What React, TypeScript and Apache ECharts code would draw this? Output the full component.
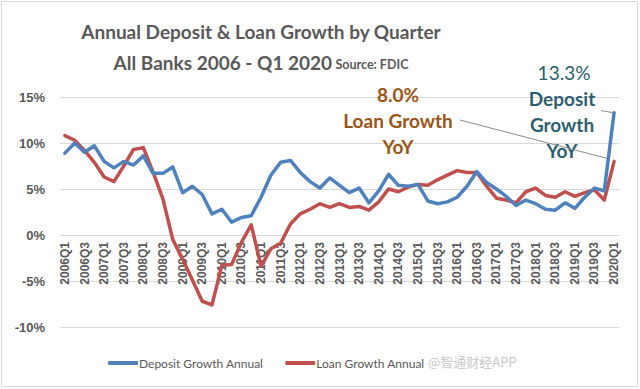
import React, { useEffect, useRef } from "react";
import * as echarts from "echarts";

const quarters = [
  "2006Q1", "2006Q2", "2006Q3", "2006Q4",
  "2007Q1", "2007Q2", "2007Q3", "2007Q4",
  "2008Q1", "2008Q2", "2008Q3", "2008Q4",
  "2009Q1", "2009Q2", "2009Q3", "2009Q4",
  "2010Q1", "2010Q2", "2010Q3", "2010Q4",
  "2011Q1", "2011Q2", "2011Q3", "2011Q4",
  "2012Q1", "2012Q2", "2012Q3", "2012Q4",
  "2013Q1", "2013Q2", "2013Q3", "2013Q4",
  "2014Q1", "2014Q2", "2014Q3", "2014Q4",
  "2015Q1", "2015Q2", "2015Q3", "2015Q4",
  "2016Q1", "2016Q2", "2016Q3", "2016Q4",
  "2017Q1", "2017Q2", "2017Q3", "2017Q4",
  "2018Q1", "2018Q2", "2018Q3", "2018Q4",
  "2019Q1", "2019Q2", "2019Q3", "2019Q4",
  "2020Q1",
];

const depositGrowth = [
  8.9, 10.0, 9.0, 9.7,
  8.0, 7.3, 8.0, 7.6,
  8.6, 6.7, 6.7, 7.4,
  4.6, 5.3, 4.4, 2.3,
  2.8, 1.4, 1.9, 2.1,
  4.1, 6.5, 7.9, 8.1,
  6.8, 5.8, 5.1, 6.2,
  5.4, 4.6, 5.1, 3.5,
  4.8, 6.6, 5.4, 5.3,
  5.5, 3.7, 3.4, 3.6,
  4.1, 5.3, 6.9, 5.7,
  5.0, 4.2, 3.2, 3.8,
  3.4, 2.8, 2.7, 3.5,
  2.9, 4.1, 5.1, 4.8,
  13.3,
];

const loanGrowth = [
  10.8, 10.3, 9.2, 7.9,
  6.3, 5.8, 7.5, 9.3,
  9.5, 6.8, 3.9, -0.5,
  -2.6, -4.9, -7.2, -7.6,
  -3.3, -3.2, -0.8, 1.1,
  -3.4, -1.5, -0.9, 1.2,
  2.3, 2.8, 3.4, 3.0,
  3.4, 3.0, 3.1, 2.7,
  3.6, 5.0, 4.7, 5.2,
  5.5, 5.4, 6.0, 6.5,
  7.0, 6.8, 6.8, 5.3,
  4.0, 3.8, 3.5, 4.7,
  5.1, 4.3, 4.1, 4.7,
  4.2, 4.6, 4.9, 3.8,
  8.0,
];

const yTicks = { min: -10, max: 15, interval: 5 };
const seriesNames = ["Deposit Growth Annual", "Loan Growth Annual"];

export default function App() {
  const ref = useRef<HTMLDivElement>(null);
  useEffect(() => {
    if (!ref.current) return;
    const chart = echarts.init(ref.current, null, { renderer: "svg" });
    const gray = "#595959";
    const gridBox = { left: 60, right: 21, top: 97, bottom: 62 };
    chart.setOption({
      animation: false,
      backgroundColor: "#ffffff",
      grid: { ...gridBox, containLabel: false },
      legend: {
        left: 103,
        top: 352,
        itemWidth: 30,
        itemHeight: 4,
        itemGap: 22,
        icon: "roundRect",
        textStyle: { color: gray, fontSize: 12, fontFamily: "Lato", padding: [0, 0, 0, -4] },
        data: seriesNames,
      },
      xAxis: {
        type: "category",
        data: quarters,
        boundaryGap: true,
        position: "bottom",
        offset: 0,
        axisLine: { show: false, onZero: false },
        axisTick: { show: false },
        axisLabel: {
          rotate: 90,
          interval: 1,
          color: gray,
          fontSize: 12,
          fontWeight: "bold",
          fontFamily: "Liberation Sans",
          margin: 7,
        },
        splitLine: { show: false },
      },
      yAxis: {
        type: "value",
        min: yTicks.min,
        max: yTicks.max,
        interval: yTicks.interval,
        axisLine: { show: false },
        axisTick: { show: false },
        axisLabel: {
          formatter: "{value}%",
          color: gray,
          fontSize: 13,
          fontWeight: "bold",
          fontFamily: "Liberation Sans",
          margin: 15,
        },
        splitLine: { lineStyle: { color: "#D9D9D9", width: 1 } },
      },
      series: [
        {
          name: seriesNames[0],
          type: "line",
          data: depositGrowth,
          symbol: "none",
          color: "#4F81BD",
          lineStyle: { width: 3.5, color: "#4F81BD", join: "round", cap: "round" },
          z: 3,
        },
        {
          name: seriesNames[1],
          type: "line",
          data: loanGrowth,
          symbol: "none",
          color: "#C0504D",
          lineStyle: { width: 3.5, color: "#C0504D", join: "round", cap: "round" },
          z: 2,
        },
      ],
    });

    // move the category axis (and its labels) up to the 0% line
    const zeroPx = chart.convertToPixel({ yAxisIndex: 0 }, 0) as number;
    const bottomPx = 389 - gridBox.bottom;
    chart.setOption({ xAxis: { offset: -(bottomPx - zeroPx) } });

    const last = quarters.length - 1;
    const pDep = chart.convertToPixel({ gridIndex: 0 }, [quarters[last], depositGrowth[last]]) as number[];
    const pLoan = chart.convertToPixel({ gridIndex: 0 }, [quarters[last], loanGrowth[last]]) as number[];
    const teal = "#2C5F6E";
    const brown = "#9A5518";
    const annFont = { fontFamily: "Lato", fontSize: 19, fontWeight: "bold" };

    chart.setOption({
      graphic: [
        {
          type: "rect",
          shape: { x: 1.5, y: 1.5, width: 636, height: 385 },
          style: { fill: "none", stroke: "#D9D9D9", lineWidth: 1 },
          silent: true,
        },
        {
          type: "text",
          x: 261,
          y: 31,
          style: {
            text: "Annual Deposit & Loan Growth by Quarter",
            fill: gray,
            fontFamily: "Lato",
            fontSize: 19,
            fontWeight: "bold",
            align: "center",
            verticalAlign: "middle",
          },
        },
        {
          type: "text",
          x: 261,
          y: 62,
          style: {
            text: "{a|All Banks 2006 - Q1 2020} {b|Source: FDIC}",
            align: "center",
            verticalAlign: "middle",
            rich: {
              a: { fill: gray, fontFamily: "Lato", fontSize: 19, fontWeight: "bold" },
              b: { fill: gray, fontFamily: "Lato", fontSize: 12.5, fontWeight: "bold", padding: [4, 0, 0, 0] },
            },
          },
        },
        {
          type: "text",
          x: 564,
          y: 72,
          style: { text: "13.3%", fill: teal, ...annFont, fontWeight: "normal", align: "center", verticalAlign: "middle" },
        },
        {
          type: "text",
          x: 562,
          y: 124,
          style: {
            text: "Deposit\nGrowth\nYoY",
            fill: teal,
            ...annFont,
            lineHeight: 26,
            align: "center",
            verticalAlign: "middle",
          },
        },
        {
          type: "text",
          x: 398,
          y: 120,
          style: {
            text: "8.0%\nLoan Growth\nYoY",
            fill: brown,
            ...annFont,
            lineHeight: 26,
            align: "center",
            verticalAlign: "middle",
          },
        },
        {
          type: "line",
          shape: { x1: 460, y1: 120, x2: pLoan[0] - 7, y2: pLoan[1] - 3 },
          style: { stroke: "#8C8C8C", lineWidth: 1 },
          silent: true,
        },
        {
          type: "line",
          shape: { x1: 601, y1: pDep[1] - 2, x2: pDep[0] - 1, y2: pDep[1] },
          style: { stroke: "#8C8C8C", lineWidth: 1 },
          silent: true,
        },
        {
          type: "text",
          x: 428,
          y: 361,
          style: {
            text: "@智通财经APP",
            fill: "#C8C8C8",
            fontFamily: "Noto Sans CJK SC",
            fontSize: 13,
            verticalAlign: "middle",
          },
        },
      ],
    });
    return () => chart.dispose();
  }, []);
  return (
    <div
      ref={ref}
      style={{ position: "fixed", left: 0, top: 0, width: 640, height: 389 }}
    />
  );
}
